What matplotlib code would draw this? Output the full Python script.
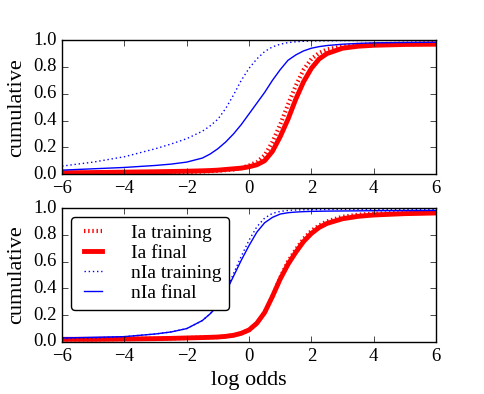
import matplotlib
matplotlib.use('Agg')
import matplotlib.pyplot as plt

plt.style.use('classic')
plt.rcParams['font.family'] = ['Liberation Serif', 'DejaVu Serif']
plt.rcParams['mathtext.fontset'] = 'stix'

x = [-6, -5, -4, -3, -2.5, -2, -1.5, -1.25, -1, -0.75, -0.5, -0.25, 0, 0.25, 0.5, 0.75, 1,
     1.25, 1.5, 1.75, 2, 2.25, 2.5, 3, 3.5, 4, 5, 6]

# top panel
top_ia_train = [0.005, 0.007, 0.009, 0.012, 0.014, 0.016, 0.02, 0.022, 0.025, 0.03, 0.035, 0.045, 0.065,
                0.09, 0.14, 0.24, 0.37, 0.52, 0.66, 0.78, 0.86, 0.905, 0.93, 0.955, 0.965, 0.97, 0.975, 0.978]
top_ia_final = [0.01, 0.012, 0.015, 0.018, 0.02, 0.022, 0.025, 0.027, 0.03, 0.035, 0.04, 0.045, 0.055,
                0.07, 0.10, 0.17, 0.28, 0.41, 0.56, 0.69, 0.79, 0.86, 0.90, 0.94, 0.955, 0.962, 0.968, 0.97]
top_nia_train = [0.06, 0.09, 0.13, 0.19, 0.225, 0.265, 0.32, 0.36, 0.41, 0.49, 0.59, 0.70, 0.79,
                 0.86, 0.915, 0.95, 0.97, 0.982, 0.988, 0.992, 0.994, 0.995, 0.996, 0.997, 0.998, 0.999, 1.0, 1.0]
top_nia_final = [0.03, 0.04, 0.05, 0.065, 0.075, 0.09, 0.12, 0.15, 0.19, 0.24, 0.30, 0.37, 0.45,
                 0.53, 0.61, 0.70, 0.78, 0.85, 0.89, 0.92, 0.94, 0.952, 0.96, 0.97, 0.976, 0.98, 0.983, 0.985]

# bottom panel
bot_ia_train = [0.02, 0.02, 0.022, 0.025, 0.027, 0.03, 0.033, 0.035, 0.037, 0.042, 0.05, 0.065, 0.09,
                0.14, 0.22, 0.34, 0.48, 0.60, 0.69, 0.77, 0.83, 0.87, 0.90, 0.935, 0.95, 0.958, 0.965, 0.97]
bot_ia_final = [0.02, 0.02, 0.022, 0.025, 0.027, 0.03, 0.033, 0.035, 0.037, 0.042, 0.05, 0.065, 0.09,
                0.14, 0.22, 0.34, 0.47, 0.58, 0.67, 0.75, 0.81, 0.855, 0.885, 0.92, 0.938, 0.948, 0.958, 0.963]
bot_nia_train = [0.025, 0.03, 0.04, 0.06, 0.075, 0.10, 0.16, 0.21, 0.28, 0.38, 0.51, 0.64, 0.76,
                 0.86, 0.925, 0.96, 0.975, 0.982, 0.985, 0.987, 0.988, 0.988, 0.989, 0.99, 0.99, 0.99, 0.99, 0.99]
bot_nia_final = [0.03, 0.035, 0.04, 0.06, 0.075, 0.10, 0.16, 0.21, 0.27, 0.37, 0.49, 0.61, 0.72,
                 0.82, 0.89, 0.93, 0.955, 0.965, 0.97, 0.973, 0.975, 0.976, 0.977, 0.978, 0.979, 0.98, 0.981, 0.982]

labels = ['Ia training', 'Ia final', 'nIa training', 'nIa final']

fig = plt.figure(figsize=(4.85, 3.94), dpi=100, facecolor='white')
ax1 = fig.add_axes([0.128, 0.558, 0.771, 0.340])
ax2 = fig.add_axes([0.128, 0.132, 0.771, 0.340])

dots = (1, 2)
for ax, series in [(ax1, (top_ia_train, top_ia_final, top_nia_train, top_nia_final)),
                   (ax2, (bot_ia_train, bot_ia_final, bot_nia_train, bot_nia_final))]:
    ax.plot(x, series[0], 'r--', dashes=dots, lw=3, label=labels[0])
    ax.plot(x, series[1], 'r-', lw=3.5, label=labels[1])
    ax.plot(x, series[2], 'b--', dashes=dots, lw=1, label=labels[2])
    ax.plot(x, series[3], 'b-', lw=1, label=labels[3])
    ax.set_xlim(-6, 6)
    ax.set_ylim(0, 1)
    ax.set_xticks([-6, -4, -2, 0, 2, 4, 6])
    ax.set_yticks([0.0, 0.2, 0.4, 0.6, 0.8, 1.0])
    ax.tick_params(labelsize=13.5)
    ax.set_ylabel('cumulative', fontsize=16)

ax2.set_xlabel('log odds', fontsize=16)
leg = ax2.legend(loc='upper left', fontsize=14, fancybox=True, handlelength=1.5,
                 handletextpad=1.2, borderaxespad=0.45, labelspacing=0.12, borderpad=0.4)

fig.savefig('out.png', dpi=100, facecolor='white')
